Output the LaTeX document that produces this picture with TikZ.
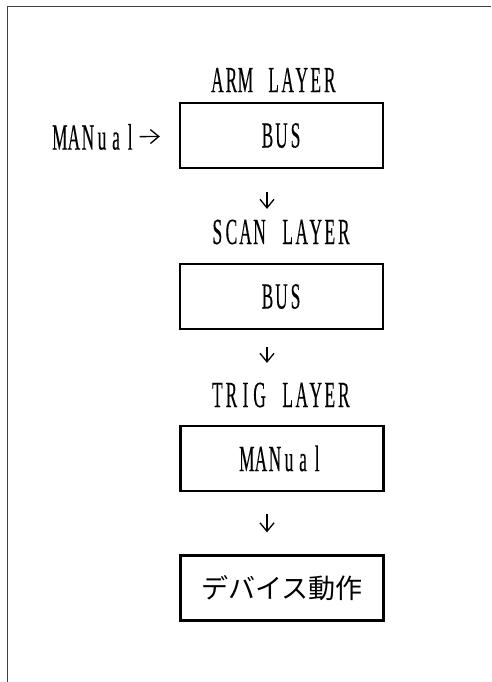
\documentclass[tikz,border=0pt]{standalone}
\usepackage{fontspec}
\usetikzlibrary{arrows.meta}
\newfontfamily\latinfont[FakeStretch=0.47,FakeBold=0.25]{Liberation Serif}
\newfontfamily\jpfont{Noto Sans CJK JP}
\newcommand\mono[1]{\monoloop#1\relax}
\def\monoloop#1{\ifx\relax#1\else\makebox[8pt]{#1}\expandafter\monoloop\fi}

\begin{document}
\begin{tikzpicture}[x=0.2mm, y=-0.2mm,
  font=\latinfont\fontsize{21pt}{25pt}\selectfont,
  >={Straight Barb[length=1.7mm,width=2.8mm]},
  bx/.style={draw, line width=1.3pt, minimum width=40.6mm, minimum height=13mm, inner sep=0pt},
  ttl/.style={anchor=west, inner sep=0pt},
  arr/.style={->, line width=0.75pt}]
  \useasboundingbox (0,0) rectangle (491,682);
  \draw[line width=0.5pt, black!75] (491,6) -- (7,6) -- (7,682);

  \node[ttl] (arm)  at (210,80)  {\mono{ARM~LAYER}};
  \node[bx]  (b1)   at (281.5,135.5) {\mono{BUS}};
  \node[ttl] (scan) at (210,232) {\mono{SCAN~LAYER}};
  \node[bx]  (b2)   at (281.5,296.5) {\mono{BUS}};
  \node[ttl] (trig) at (210,395) {\mono{TRIG~LAYER}};
  \node[bx]  (b3)   at (282,458.5) {\mono{MANual}};
  \node[bx]  (b4)   at (282,588) {\jpfont\fontsize{15.4pt}{18pt}\selectfont デバイス動作};
  \node[inner sep=0pt] (man) at (95,137) {\mono{MANual}};

  \coordinate (col) at (267,0);
  \draw[arr, shorten <=0.4mm, shorten >=3.8mm] (man) -- (b1);
  \draw[arr, shorten <=4.6mm, shorten >=10.8mm] (b1.south -| col) -- (b2.north -| col);
  \draw[arr, shorten <=3.4mm, shorten >=12.4mm] (b2.south -| col) -- (b3.north -| col);
  \draw[arr, shorten <=4.4mm, shorten >=4.4mm] (b3.south -| col) -- (b4.north -| col);
\end{tikzpicture}
\end{document}
